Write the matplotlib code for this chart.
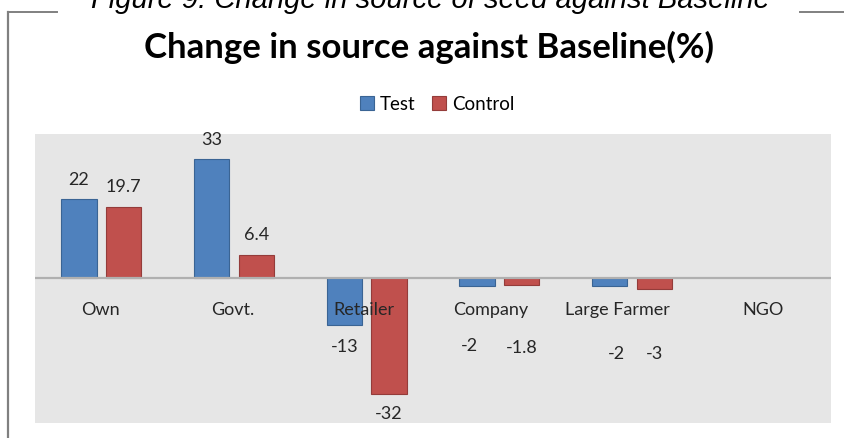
import matplotlib
matplotlib.use("Agg")
import matplotlib.pyplot as plt
from matplotlib.patches import Patch
from matplotlib.lines import Line2D
import numpy as np

categories = ["Own", "Govt.", "Retailer", "Company", "Large Farmer", "NGO"]
test_values = [22, 33, -13, -2, -2, 0]
control_values = [19.7, 6.4, -32, -1.8, -3, 0]
series_names = ["Test", "Control"]

# label placement (pixels from the anchor: dx, dy), hand-tuned per item
test_label_offsets = [(0, 19), (0, 19), (0, -22), (-8, -60), (7, -68), (0, 0)]
control_label_offsets = [(0, 20), (0, 20), (0, -20), (0, -63), (0, -65), (0, 0)]
category_label_dx = [-1, -1.5, -3, -9, -15, -2]

W, H, DPI = 845, 438, 100
fig = plt.figure(figsize=(W / DPI, H / DPI), dpi=DPI)
fig.patch.set_facecolor("white")

FONT = "Lato"
TXT = "#262626"
px2pt = 72 / DPI

def fx(px):
    return px / W

def fy(py):
    return 1 - py / H

ax = fig.add_axes([fx(35), fy(422.7), fx(831 - 35), (422.7 - 134) / H])
ax.set_facecolor("#e6e6e6")
for s in ax.spines.values():
    s.set_visible(False)

x = np.arange(len(categories))
bw = 0.265
off = 0.168
blue, blue_edge = "#4f81bd", "#3a6494"
red, red_edge = "#c0504d", "#943c3a"

def edge_widths(vals):
    return [0.8 if v != 0 else 0 for v in vals]

tb = ax.bar(x - off, test_values, bw, color=blue, edgecolor=blue_edge,
            linewidth=edge_widths(test_values), zorder=1.5)
cb = ax.bar(x + off, control_values, bw, color=red, edgecolor=red_edge,
            linewidth=edge_widths(control_values), zorder=1.5)

ax.set_xlim(-0.5, len(categories) - 0.5)
ax.set_ylim(-40, 40)
ax.axhline(0, color="#b0b0b0", linewidth=1.6, zorder=2)
ax.set_xticks([])
ax.set_yticks([])

# category names sit just below the zero line
for xi, name, dx in zip(x, categories, category_label_dx):
    ax.annotate(name, (xi, 0), xytext=(dx * px2pt, -32 * px2pt),
                textcoords="offset points", ha="center", va="center",
                fontsize=13, fontfamily=FONT, color=TXT, zorder=4)

def fmt(v):
    return ("%g" % v)

for bars, vals, offs in ((tb, test_values, test_label_offsets),
                         (cb, control_values, control_label_offsets)):
    for b, v, (dx, dy) in zip(bars, vals, offs):
        if v == 0:
            continue
        xc = b.get_x() + b.get_width() / 2
        ax.annotate(fmt(v), (xc, v), xytext=(dx * px2pt, dy * px2pt),
                    textcoords="offset points", ha="center", va="center",
                    fontsize=13, fontfamily=FONT, color=TXT, zorder=4,
                    annotation_clip=False)

# chart title
fig.text(fx(429), fy(58), "Change in source against Baseline(%)", ha="center",
         va="baseline", fontsize=25, fontweight="bold", fontfamily=FONT, color="black")

# legend
handles = [Patch(facecolor=blue, edgecolor=blue_edge, linewidth=0.8),
           Patch(facecolor=red, edgecolor=red_edge, linewidth=0.8)]
fig.legend(handles, series_names, loc="center", bbox_to_anchor=(fx(437), fy(104)),
           ncol=2, frameon=False, handlelength=0.75, handleheight=0.75,
           handletextpad=0.3, columnspacing=0.9,
           prop={"family": FONT, "size": 13.5})

# figure caption (running off the top edge) and frame lines
fig.text(fx(430), fy(7.5), "Figure 9: Change in source of seed against Baseline",
         ha="center", va="baseline", fontsize=21, fontstyle="italic",
         fontfamily="Liberation Sans", color="black")
frame = "#808080"
fig.add_artist(Line2D([fx(8.5), fx(8.5)], [fy(12), 0], transform=fig.transFigure,
                      color=frame, linewidth=1.6))
fig.add_artist(Line2D([fx(8.5), fx(57.5)], [fy(12), fy(12)], transform=fig.transFigure,
                      color=frame, linewidth=1.4))
fig.add_artist(Line2D([fx(800), 1], [fy(12), fy(12)], transform=fig.transFigure,
                      color=frame, linewidth=1.4))

fig.savefig("out.png", dpi=DPI)
